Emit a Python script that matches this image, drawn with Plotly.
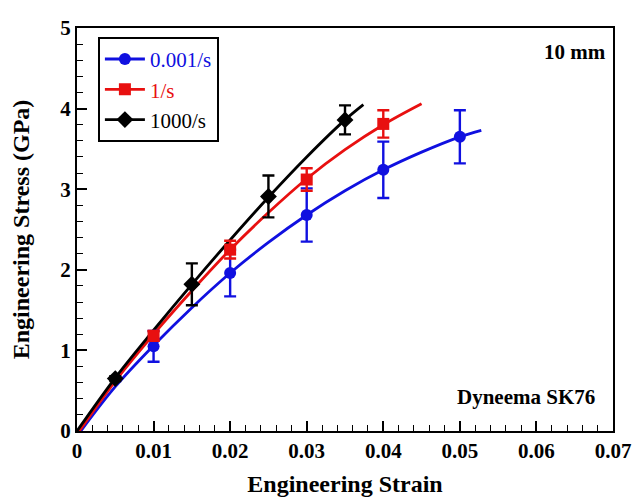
import plotly.graph_objects as go

# Measured mean points with error bars
blue_x = [0.01, 0.02, 0.03, 0.04, 0.05]
blue_y = [1.05, 1.96, 2.68, 3.24, 3.65]
blue_err = [0.19, 0.29, 0.33, 0.35, 0.33]

red_x = [0.01, 0.02, 0.03, 0.04]
red_y = [1.18, 2.25, 3.12, 3.81]
red_err = [0.06, 0.11, 0.14, 0.17]

black_x = [0.005, 0.015, 0.025, 0.035]
black_y = [0.65, 1.82, 2.91, 3.86]
black_err = [0.03, 0.26, 0.26, 0.18]

# Fitted curves
blue_cx = [0.0005, 0.005, 0.01, 0.015, 0.02, 0.025, 0.03, 0.035, 0.04, 0.045, 0.05, 0.0528]
blue_cy = [0.0, 0.55, 1.06, 1.53, 1.96, 2.34, 2.68, 2.98, 3.24, 3.46, 3.65, 3.73]
red_cx = [0.0003, 0.005, 0.01, 0.015, 0.02, 0.025, 0.03, 0.035, 0.04, 0.045]
red_cy = [0.0, 0.62, 1.20, 1.74, 2.25, 2.71, 3.13, 3.49, 3.80, 4.06]
black_cx = [0.0, 0.005, 0.01, 0.015, 0.02, 0.025, 0.03, 0.035, 0.0374]
black_cy = [0.0, 0.66, 1.25, 1.82, 2.37, 2.90, 3.40, 3.86, 4.05]

labels = ["0.001/s", "1/s", "1000/s"]
colors = ["#1010e0", "#e81010", "#000000"]
symbols = ["circle", "square", "diamond"]
msizes = [12, 12, 13]

series = [
    (blue_x, blue_y, blue_err, blue_cx, blue_cy),
    (red_x, red_y, red_err, red_cx, red_cy),
    (black_x, black_y, black_err, black_cx, black_cy),
]

FONT = "Liberation Serif"
fig = go.Figure()

for i, (mx, my, me, cx, cy) in enumerate(series):
    fig.add_trace(go.Scatter(x=cx, y=cy, mode="lines", line=dict(color=colors[i], width=2.8, shape="spline"),
                             showlegend=False, hoverinfo="skip"))
for i, (mx, my, me, cx, cy) in enumerate(series):
    fig.add_trace(go.Scatter(x=mx, y=my, mode="markers",
                             marker=dict(color=colors[i], symbol=symbols[i], size=msizes[i]),
                             error_y=dict(type="data", array=me, color=colors[i], thickness=2.4, width=6),
                             showlegend=False))
for i in range(3):
    fig.add_trace(go.Scatter(x=[None], y=[None], mode="lines+markers",
                             name=f"<span style='color:{colors[i]}'>{labels[i]}</span>",
                             line=dict(color=colors[i], width=2.8),
                             marker=dict(color=colors[i], symbol=symbols[i], size=msizes[i])))

axis_common = dict(showgrid=False, zeroline=False, showline=True, linecolor="black", linewidth=2,
                   mirror=True, ticks="inside", ticklen=10, tickwidth=1.5, tickcolor="black",
                   automargin=False,
                   tickfont=dict(family=FONT, size=21, color="black"))

fig.update_xaxes(range=[0, 0.07], dtick=0.01, tickformat=".2~f",
                 minor=dict(dtick=0.002, ticks="inside", ticklen=6, tickwidth=1.2, tickcolor="black"),
                 title=dict(text="<b>Engineering Strain</b>", font=dict(family=FONT, size=24, color="black"), standoff=16),
                 **axis_common)
fig.update_yaxes(range=[0, 5], dtick=1,
                 minor=dict(dtick=0.2, ticks="inside", ticklen=6, tickwidth=1.2, tickcolor="black"),
                 title=dict(text="<b>Engineering Stress (GPa)</b>", font=dict(family=FONT, size=24, color="black"), standoff=24),
                 **axis_common)

fig.update_layout(
    width=634, height=497,
    margin=dict(l=77, r=21, t=28, b=66),
    paper_bgcolor="white", plot_bgcolor="white",
    font=dict(family=FONT, color="black"),
    legend=dict(x=0.039, y=0.978, xanchor="left", yanchor="top",
                bordercolor="black", borderwidth=2, bgcolor="white",
                font=dict(family=FONT, size=21), tracegroupgap=0, itemwidth=40),
    annotations=[
        dict(text="<b>10 mm</b>", x=0.99, y=0.94, xref="paper", yref="paper",
             xanchor="right", yanchor="middle", showarrow=False, font=dict(family=FONT, size=21, color="black")),
        dict(text="<b>Dyneema SK76</b>", x=0.97, y=0.085, xref="paper", yref="paper",
             xanchor="right", yanchor="middle", showarrow=False, font=dict(family=FONT, size=21, color="black")),
    ],
)

# bold tick labels
fig.update_xaxes(tickprefix="<b>", ticksuffix="</b>")
fig.update_yaxes(tickprefix="<b>", ticksuffix="</b>")

fig.write_html("out.html")
